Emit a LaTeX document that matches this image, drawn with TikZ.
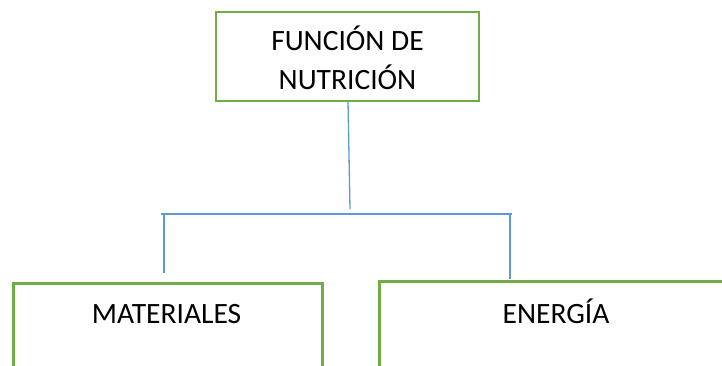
\documentclass[tikz,border=0pt]{standalone}
\usepackage{fontspec}
\setmainfont{Carlito}
\definecolor{boxgreen}{HTML}{70AD47}
\definecolor{lineblue}{HTML}{5B9BD5}
\begin{document}
\begin{tikzpicture}[x=1pt,y=-1pt,
  box/.style={draw=boxgreen, line width=2.8pt, rectangle, inner sep=0pt, fill=none},
  lbl/.style={font=\fontsize{29.5}{39}\selectfont, text=black, inner sep=0pt, align=center},
  conn/.style={draw=lineblue, line width=1.3pt}]
\useasboundingbox (0,0) rectangle (722,365);
% boxes
\node[box, minimum width=263pt, minimum height=89pt] (top) at (347.5,56.5) {};
\node[box, minimum width=309pt, minimum height=120pt, anchor=north west] (mat) at (12,282) {};
\node[box, minimum width=356pt, minimum height=120pt, anchor=north west] (ene) at (378,280) {};
% labels
\node[lbl, anchor=base] (toptxt1) at (347.5,50) {FUNCIÓN DE};
\node[lbl, anchor=base] (toptxt2) at (347.5,89) {NUTRICIÓN};
\node[lbl, anchor=base] (mattxt) at (166.5,323) {MATERIALES};
\node[lbl, anchor=base] (enetxt) at (556,323) {ENERGÍA};
% connector coordinates
\coordinate (stemtop) at (348,101);
\coordinate (stembot) at (350,209);
\coordinate (hl) at (161,214);
\coordinate (hr) at (512,214);
\coordinate (vl) at (164,214);
\coordinate (vlb) at (164,273);
\coordinate (vr) at (510,214);
\coordinate (vrb) at (510,279);
% connectors
\draw[conn] (stemtop) -- (stembot);
\draw[conn, line width=1.6pt] (hl) -- (hr);
\draw[conn] (vl) -- (vlb);
\draw[conn] (vr) -- (vrb);
\end{tikzpicture}
\end{document}
